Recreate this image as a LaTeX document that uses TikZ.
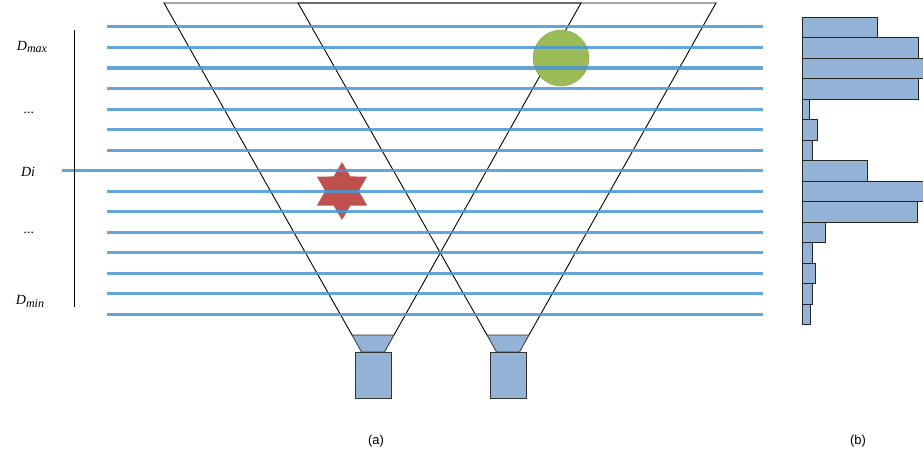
\documentclass[tikz,border=0pt]{standalone}
\usepackage{fontspec}
\setmainfont{Liberation Serif}
\setsansfont{Liberation Sans}
\usepackage{tikz}
\usetikzlibrary{shapes.geometric,positioning,calc}

\definecolor{planeblue}{RGB}{74,150,210}
\definecolor{camblue}{RGB}{149,179,215}
\definecolor{starred}{RGB}{192,80,77}
\definecolor{ballgreen}{RGB}{155,187,89}

\newcommand{\depthsub}[1]{\raisebox{-0.45ex}{\fontsize{12}{14}\selectfont #1}}

\begin{document}
\begin{tikzpicture}[
  x=1pt, y=-1pt,
  plane/.style={draw=planeblue, line width=3pt, draw opacity=0.85},
  ray/.style={draw=black, line width=0.9pt},
  cam/.style={draw=black!80, fill=camblue, line width=0.8pt},
  bar/.style={draw=black!85, fill=camblue, line width=0.8pt},
  depth/.style={font=\fontsize{14}{16}\selectfont\itshape, inner sep=0pt},
  caption/.style={font=\sffamily\fontsize{13}{15}\selectfont, inner sep=0pt}
]
  \useasboundingbox (0,0) rectangle (923,460);

  % cameras and their lens corners
  \foreach \cx/\nm in {373/camA, 508/camB} {
    \draw[cam] (\cx-21,335) -- (\cx+21,335) -- (\cx+11.5,352) -- (\cx-11.5,352) -- cycle;
    \node[cam, rectangle, minimum width=36pt, minimum height=46pt, inner sep=0pt] (\nm) at (\cx,375) {};
    \coordinate (\nm-l) at (\cx-21,335);
    \coordinate (\nm-r) at (\cx+21,335);
  }

  % view cones
  \coordinate (topA-l) at (164,3);
  \coordinate (topA-r) at (581,3);
  \coordinate (topB-l) at (298,3);
  \coordinate (topB-r) at (716,3);
  \draw[ray] (camA-l) -- (topA-l) -- (topA-r) -- (camA-r);
  \draw[ray] (camB-l) -- (topB-l) -- (topB-r) -- (camB-r);

  % objects
  \node[star, star points=6, star point ratio=1.732, minimum size=58pt, inner sep=0pt,
        fill=starred] (target) at (342,191) {};
  \node[circle, minimum size=56pt, inner sep=0pt, fill=ballgreen,
        draw=ballgreen!85!black, line width=0.3pt] (ball) at (561,58) {};

  % depth planes
  \foreach \i in {0,...,14}
    \draw[plane] (107,27+20.5*\i) -- (763,27+20.5*\i);
  \draw[plane] (62,170.5) -- (107,170.5);

  % depth axis
  \draw[line width=1pt] (74,30) -- (74,307);
  \node[depth] (dmax) at (32,47) {D\depthsub{max}};
  \node[depth] (dots1) at (29,113) {...};
  \node[depth] (di) at (28,172) {Di};
  \node[depth] (dots2) at (29,233) {...};
  \node[depth] (dmin) at (30,301) {D\depthsub{min}};

  % histogram
  \foreach \w [count=\i from 0] in {75,116,123,116,7,15,10,65,123,115,23,10,13,10,8}
    \draw[bar] (802,17.3+20.5*\i) rectangle +(\w,20.5);

  \node[caption] (capa) at (376,441) {(a)};
  \node[caption] (capb) at (858,441) {(b)};
\end{tikzpicture}
\end{document}
